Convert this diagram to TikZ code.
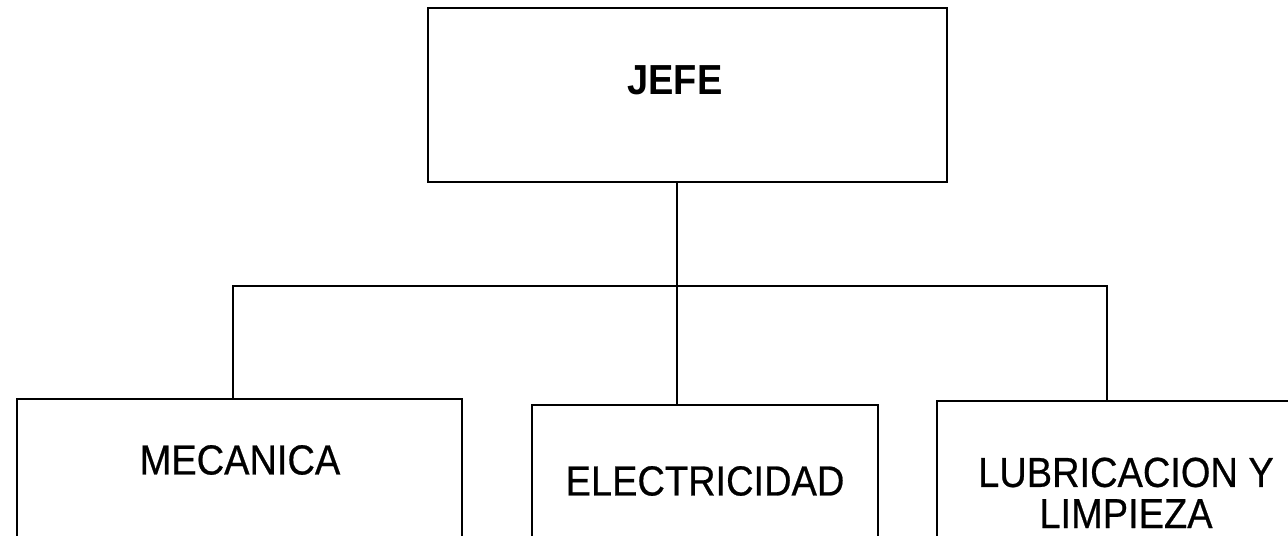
\documentclass[tikz,border=0pt]{standalone}
\usepackage{fontspec}
\setmainfont{Liberation Sans}
\newfontfamily\lblfont{Liberation Sans}[FakeBold=0.6]
\newcommand{\lbltxt}[1]{\scalebox{0.95}[1.05]{#1}}
\tikzset{
  box/.style={draw=black, line width=1.4pt, rectangle, inner sep=0pt, fill=none},
  lbl/.style={inner sep=0pt, font=\fontsize{20pt}{19.5pt}\selectfont, text=black},
  conn/.style={draw=black, line width=1.3pt}
}
\begin{document}
\begin{tikzpicture}[x=0.5pt, y=-0.5pt]
\useasboundingbox (0,0) rectangle (1288,535);
\fill[white] (0,0) rectangle (1288,535);
\clip (0,0) rectangle (1288,535);
% boxes
\node[box, minimum width=259.5pt, minimum height=87pt] (jefe) at (687.5,95) {};
\node[box, minimum width=222.5pt, minimum height=100.5pt] (mec) at (239.5,499.5) {};
\node[box, minimum width=173pt, minimum height=97.5pt] (elec) at (705,502.5) {};
\node[box, minimum width=191.5pt, minimum height=99.5pt] (lub) at (1128.5,500.5) {};
% texts
\node[lbl] (jefeT) at (675,80) {\lbltxt{\bfseries JEFE}};
\node[lbl] (mecT) at (240,460) {\lbltxt{\lblfont MECANICA}};
\node[lbl] (elecT) at (705,481) {\lbltxt{\lblfont ELECTRICIDAD}};
\node[lbl] (lubT) at (1126,499) {\lbltxt{\lblfont\begin{tabular}{@{}c@{}}LUBRICACION Y\\LIMPIEZA\end{tabular}}};
% connectors
\coordinate (st) at (677,286);
\coordinate (hl) at (233,286);
\coordinate (hr) at (1107,286);
\draw[conn] (jefe.south -| st) -- (elec.north -| st);
\draw[conn] (hl |- mec.north) -- (hl) -- (hr) -- (hr |- lub.north);
\end{tikzpicture}
\end{document}
